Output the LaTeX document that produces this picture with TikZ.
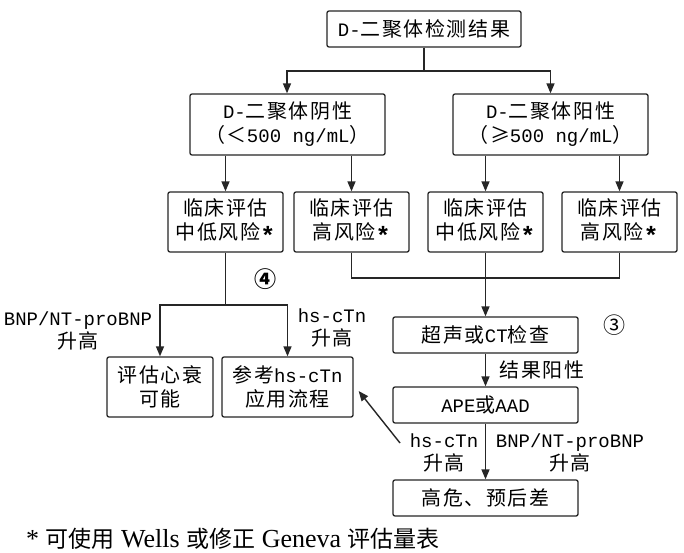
\documentclass[tikz,border=0pt]{standalone}
\usepackage{fontspec}
\setmainfont{Liberation Mono}
\newfontfamily\cjk[Scale=1.05,LetterSpace=8]{Noto Sans CJK SC}
\newfontfamily\cjkfoot{Noto Sans CJK SC}
\newfontfamily\serifl{Liberation Serif}
\usetikzlibrary{arrows.meta}
\newcommand\myast{{\fontsize{25}{24}\selectfont\bfseries\raisebox{-5pt}{*}}}
\newcommand\fz[1]{{\cjkfoot\fontsize{23}{26}\selectfont #1}}
\tikzset{
  box/.style={draw=black!85, line width=1.3pt, rounded corners=2pt, inner sep=0pt, align=center,
    font=\fontsize{19}{24}\selectfont},
  lbl/.style={inner sep=0pt, align=center, font=\fontsize{19}{23}\selectfont},
  conn/.style={draw=black!85, line width=1.4pt},
  arr/.style={conn, -{Triangle[length=10pt,width=8pt]}},
}
\begin{document}
\begin{tikzpicture}[x=1pt,y=-1pt]
\useasboundingbox (0,0) rectangle (684,553);
\fill[white] (0,0) rectangle (684,553);

\node[box, minimum width=194pt, minimum height=36pt] (top) at (424,29) {D-{\cjk 二聚体检测结果}};
\node[box, minimum width=195pt, minimum height=61pt] (neg) at (287.5,124.5) {D-{\cjk 二聚体阴性}\\{\cjk （＜}500 ng/mL{\cjk ）}};
\node[box, minimum width=195pt, minimum height=61pt] (pos) at (550.5,124.5) {D-{\cjk 二聚体阳性}\\{\cjk （≥}500 ng/mL{\cjk ）}};

\node[box, minimum width=115pt, minimum height=60pt] (A) at (225.5,222) {{\cjk 临床评估}\\{\cjk 中低风险}\myast};
\node[box, minimum width=115pt, minimum height=60pt] (B) at (351.5,222) {{\cjk 临床评估}\\{\cjk 高风险}\myast};
\node[box, minimum width=115pt, minimum height=60pt] (C) at (485.5,222) {{\cjk 临床评估}\\{\cjk 中低风险}\myast};
\node[box, minimum width=115pt, minimum height=60pt] (D) at (619.5,222) {{\cjk 临床评估}\\{\cjk 高风险}\myast};

\node[box, minimum width=106pt, minimum height=60pt] (hf) at (160,387) {{\cjk 评估心衰}\\{\cjk 可能}};
\node[box, minimum width=131pt, minimum height=60pt] (ref) at (287.5,387) {{\cjk 参考}hs-cTn\\{\cjk 应用流程}};

\node[box, minimum width=185pt, minimum height=36pt] (us) at (485.5,335) {{\cjk 超声或}CT{\cjk 检查}};
\node[box, minimum width=185pt, minimum height=36pt] (ape) at (485.5,405) {APE{\cjk 或}AAD};
\node[box, minimum width=185pt, minimum height=36pt] (bad) at (485.5,498) {{\cjk 高危、预后差}};

% labels
\node[lbl] (l1) at (78,331) {BNP/NT-proBNP\\{\cjk 升高}};
\node[lbl] (l2) at (332,328) {hs-cTn\\{\cjk 升高}};
\node[lbl] (c4) at (266,279) {{\cjk\fontsize{21}{24}\selectfont\bfseries ④}};
\node[lbl] (c3) at (615,325) {{\cjk\fontsize{21}{24}\selectfont ③}};
\node[lbl] (l3) at (542,370) {{\cjk 结果阳性}};
\node[lbl] (l4) at (444,453) {hs-cTn\\{\cjk 升高}};
\node[lbl] (l5) at (570,453) {BNP/NT-proBNP\\{\cjk 升高}};
\coordinate (dstart) at (400,443);

% connectors
\coordinate (j0) at (424,71);
\draw[conn] (top.south) -- (j0);
\draw[arr] (j0) -| ([xshift=-0.5pt]neg.north);
\draw[arr] (j0) -| (pos.north);

\draw[arr] (neg.south -| A.north) -- (A.north);
\draw[arr] (neg.south -| B.north) -- (B.north);
\draw[arr] (pos.south -| C.north) -- (C.north);
\draw[arr] (pos.south -| D.north) -- (D.north);

\coordinate (jr) at (485.5,278);
\draw[conn] (B.south) |- (jr) -| (D.south);
\draw[arr] (C.south) -- (us.north);

\coordinate (jl) at (225.5,305);
\draw[conn] (A.south) -- (jl);
\draw[arr] (jl) -| (hf.north);
\draw[arr] (jl) -| (ref.north);

\draw[arr] (us.south) -- (ape.north);
\draw[arr] (ape.south) -- (bad.north);
\draw[arr] (dstart) -- ([xshift=5pt,yshift=-4pt]ref.east);

% footnote
\node[anchor=west, inner sep=0pt, font=\fontsize{26}{28}\selectfont] (foot) at (26,539)
  {\serifl * \fz{可使用} Wells \fz{或修正} Geneva \fz{评估量表}};
\end{tikzpicture}
\end{document}
